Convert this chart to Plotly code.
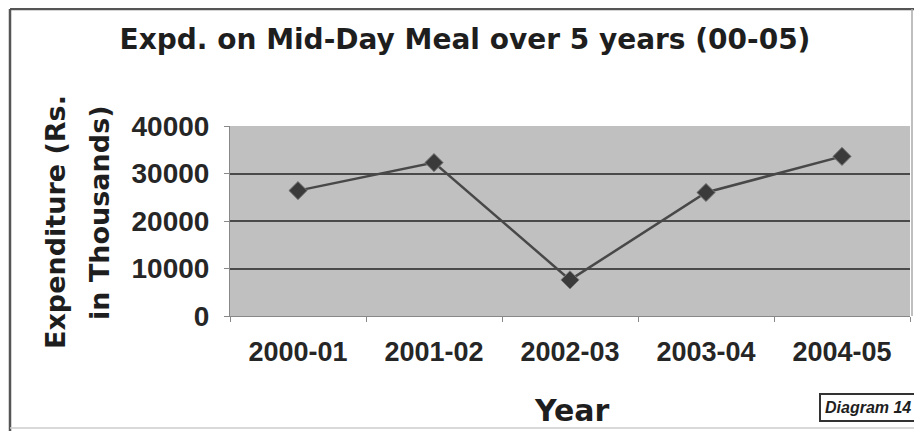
import plotly.graph_objects as go

# expenditure on mid-day meal, Rs. in thousands
years = ["2000-01", "2001-02", "2002-03", "2003-04", "2004-05"]
expenditure = [26400, 32300, 7600, 26000, 33600]
y_ticks = [0, 10000, 20000, 30000, 40000]

# page body has an 8px margin, so the figure is drawn 8px right/down.
# positions below are screen px; plot area is 230..910 x 126..316
W, H = 680, 190
L, T = 230, 126


def px(x):
    return (x - L) / W


def py(y):
    return (T + H - y) / H


wide = "DejaVu Sans, Verdana, sans-serif"
narrow = "Liberation Sans, Arial, sans-serif"

fig = go.Figure()
fig.add_trace(go.Scatter(
    x=years, y=expenditure, mode="lines+markers",
    line=dict(color="#484848", width=2.5),
    marker=dict(symbol="diamond", size=14, color="#3a3a3a",
                line=dict(color="#7a7a7a", width=1)),
    showlegend=False,
))

fig.update_layout(
    width=914, height=423,
    margin=dict(l=L - 8, r=914 - (L - 8) - W, t=T - 8, b=423 - (T - 8) - H),
    paper_bgcolor="white",
    plot_bgcolor="#c0c0c0",
    font=dict(family=narrow, color="#262626"),
    title=dict(text="<b>Expd. on Mid-Day Meal over 5 years (00-05)</b>",
               x=(465 - 8) / 914, xanchor="center", y=1 - 31 / 423, yanchor="middle",
               font=dict(family=wide, size=28, color="#1e1e1e")),
)
fig.update_xaxes(
    type="category", range=[-0.5, 4.5], showgrid=False, ticks="outside", ticklen=5,
    tickcolor="#888", showline=True, linecolor="#888", tickson="boundaries",
    tickfont=dict(size=27, weight="bold"), ticklabelstandoff=12,
)
fig.update_yaxes(
    range=[0, 40000], tickvals=y_ticks, showgrid=True, gridcolor="#4a4a4a", gridwidth=1.5,
    ticks="outside", ticklen=5, tickcolor="#888", showline=True, linecolor="#888",
    tickfont=dict(size=28, weight="bold"), tickformat="d", ticklabelstandoff=9,
    zeroline=False,
)

# axis titles
fig.add_annotation(text="<b>Expenditure (Rs.</b>", xref="paper", yref="paper",
                   x=px(55), y=py(222), xanchor="center", yanchor="middle", textangle=-90,
                   showarrow=False, font=dict(family=wide, size=27, color="#1e1e1e"))
fig.add_annotation(text="<b>in Thousands)</b>", xref="paper", yref="paper",
                   x=px(99), y=py(213), xanchor="center", yanchor="middle", textangle=-90,
                   showarrow=False, font=dict(family=wide, size=27, color="#1e1e1e"))
fig.add_annotation(text="<b>Year</b>", xref="paper", yref="paper",
                   x=px(572), y=py(410), xanchor="center", yanchor="middle",
                   showarrow=False, font=dict(family=wide, size=30, color="#1e1e1e"))

# outer frame of the chart: dark left/top, faint right/bottom
fig.add_shape(type="line", xref="paper", yref="paper",
              x0=px(10), x1=px(10), y0=py(431), y1=py(9), line=dict(color="#555", width=2.5))
fig.add_shape(type="line", xref="paper", yref="paper",
              x0=px(10), x1=px(921), y0=py(9), y1=py(9), line=dict(color="#555", width=2.5))
fig.add_shape(type="line", xref="paper", yref="paper",
              x0=px(912), x1=px(912), y0=py(316), y1=py(9), line=dict(color="#aaa", width=1.5))
fig.add_shape(type="line", xref="paper", yref="paper",
              x0=px(10), x1=px(921), y0=py(428), y1=py(428), line=dict(color="#ccc", width=1.5))
fig.add_annotation(text="<i><b>Diagram 14</b></i>", xref="paper", yref="paper",
                   x=px(917), y=py(407), xanchor="right", yanchor="middle",
                   showarrow=False, font=dict(size=16, color="#1e1e1e"),
                   bordercolor="#333", borderwidth=2, borderpad=4, bgcolor="white")

fig.write_html("out.html")
